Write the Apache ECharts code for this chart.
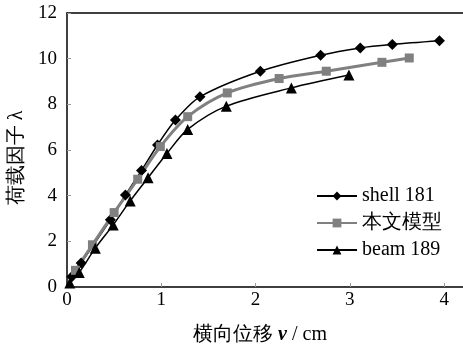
<!DOCTYPE html>
<html>
<head>
<meta charset="utf-8">
<script src="https://cdn.jsdelivr.net/npm/echarts@6/dist/echarts.min.js"></script>
<style>
  html, body { margin: 0; padding: 0; background: #fff; }
  #chart { width: 463px; height: 346px; }
</style>
</head>
<body>
<div id="chart"></div>
<script>
// shell 181
const shellX = [0.05, 0.15, 0.46, 0.62, 0.79, 0.96, 1.15, 1.41, 2.05, 2.69, 3.11, 3.45, 3.95];
const shellY = [0.45, 1.05, 2.94, 4.03, 5.10, 6.22, 7.31, 8.33, 9.45, 10.15, 10.47, 10.62, 10.78];
// 本文模型
const modelX = [0.09, 0.27, 0.50, 0.75, 0.99, 1.28, 1.70, 2.25, 2.75, 3.34, 3.63];
const modelY = [0.73, 1.85, 3.26, 4.72, 6.15, 7.46, 8.50, 9.13, 9.45, 9.84, 10.03];
// beam 189
const beamX = [0.03, 0.13, 0.30, 0.49, 0.67, 0.86, 1.06, 1.28, 1.69, 2.38, 2.99];
const beamY = [0.17, 0.64, 1.70, 2.72, 3.77, 4.79, 5.85, 6.90, 7.92, 8.72, 9.28];

const xTicks = [0, 1, 2, 3, 4];
const yTicks = [0, 2, 4, 6, 8, 10, 12];

const seriesNames = ['shell 181', '本文模型', 'beam 189'];

function pairs(xs, ys) {
  return xs.map((x, i) => [x, ys[i]]);
}

const serif = 'Liberation Serif';

const chart = echarts.init(document.getElementById('chart'), null, { renderer: 'canvas' });

const option = {
  animation: false,
  backgroundColor: '#fff',
  textStyle: { fontFamily: serif },
  grid: { left: 67, right: 0, top: 13, bottom: 59, containLabel: false, outerBoundsMode: 'none' },
  legend: {
    left: 311,
    top: 181,
    orient: 'vertical',
    itemWidth: 40,
    itemHeight: 11,
    itemGap: 7,
    textStyle: { fontFamily: serif, fontSize: 20, color: '#000' },
    data: seriesNames
  },
  xAxis: [{
    type: 'value',
    min: 0,
    max: 4.2,
    interval: 1,
    axisLine: { lineStyle: { color: '#000', width: 1.5 } },
    axisTick: { show: true, inside: true, length: 4, lineStyle: { color: '#999' } },
    splitLine: { show: false },
    axisLabel: {
      fontFamily: serif, fontSize: 19, color: '#000', margin: 4,
      formatter: v => (xTicks.indexOf(v) >= 0 ? String(v) : '')
    },
    name: '横向位移 {v|v} / cm',
    nameLocation: 'middle',
    nameGap: 38,
    nameTextStyle: {
      fontFamily: serif, fontSize: 20, color: '#000', padding: [0, 10, 0, 0],
      rich: { v: { fontFamily: serif, fontSize: 20, fontStyle: 'italic', fontWeight: 'bold' } }
    }
  }, {
    type: 'value',
    position: 'top',
    min: 0,
    max: 4.2,
    axisLine: { show: true, lineStyle: { color: '#000', width: 1.5 } },
    axisTick: { show: false },
    axisLabel: { show: false },
    splitLine: { show: false }
  }],
  yAxis: {
    type: 'value',
    min: 0,
    max: 12,
    interval: 2,
    axisLine: { show: true, lineStyle: { color: '#000', width: 1.5 } },
    axisTick: { show: true, inside: true, length: 4, lineStyle: { color: '#999' } },
    splitLine: { show: false },
    axisLabel: {
      fontFamily: serif, fontSize: 19, color: '#000', margin: 10,
      formatter: v => (yTicks.indexOf(v) >= 0 ? String(v) : '')
    },
    name: '荷载因子 λ',
    nameLocation: 'middle',
    nameGap: 39,
    nameTextStyle: { fontFamily: serif, fontSize: 20, color: '#000', padding: [0, 16, 0, 0] }
  },
  series: [{
    name: seriesNames[0],
    type: 'line',
    data: pairs(shellX, shellY),
    smooth: 0.3,
    symbol: 'diamond',
    symbolSize: 11,
    itemStyle: { color: '#000' },
    lineStyle: { color: '#000', width: 1.5 }
  }, {
    name: seriesNames[1],
    type: 'line',
    data: pairs(modelX, modelY),
    smooth: 0.3,
    symbol: 'rect',
    symbolSize: 9,
    itemStyle: { color: '#808080' },
    lineStyle: { color: '#808080', width: 3 }
  }, {
    name: seriesNames[2],
    type: 'line',
    data: pairs(beamX, beamY),
    smooth: 0.3,
    symbol: 'triangle',
    symbolSize: 11,
    itemStyle: { color: '#000' },
    lineStyle: { color: '#000', width: 1.5 }
  }]
};

chart.setOption(option);
</script>
</body>
</html>
